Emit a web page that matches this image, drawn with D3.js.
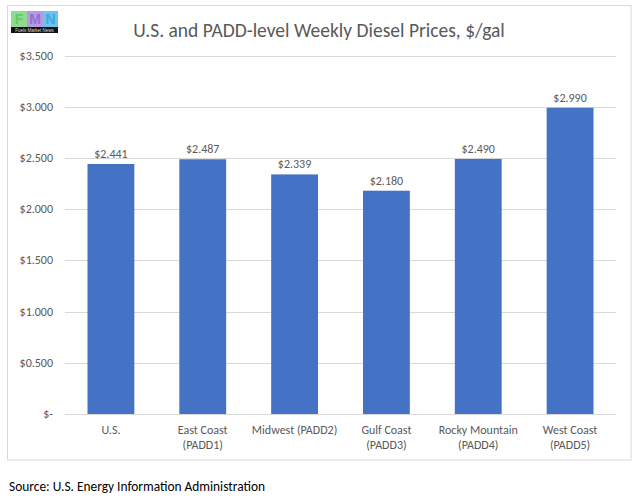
<!DOCTYPE html>
<html><head><meta charset="utf-8">
<script src="https://cdn.jsdelivr.net/npm/d3@7"></script>
<style>body{margin:0;background:#fff}svg{display:block}</style>
</head><body>
<svg id="c" width="638" height="501"></svg>
<script>
const categories = [["U.S."],["East Coast","(PADD1)"],["Midwest (PADD2)"],["Gulf Coast","(PADD3)"],["Rocky Mountain","(PADD4)"],["West Coast","(PADD5)"]];
const values = [2.441, 2.487, 2.339, 2.180, 2.490, 2.990];
const valueLabels = ["$2.441","$2.487","$2.339","$2.180","$2.490","$2.990"];
const tickValues = [0,0.5,1,1.5,2,2.5,3,3.5];
const tickLabels = ["$-","$0.500","$1.000","$1.500","$2.000","$2.500","$3.000","$3.500"];

const svg = d3.select("#c");
const font = "Calibri, Carlito, 'Open Sans', 'Liberation Sans', sans-serif";
svg.append("rect").attr("x",7.5).attr("y",5.5).attr("width",623.5).attr("height",454.5)
  .attr("fill","#fff").attr("stroke","#d9d9d9").attr("stroke-width",1);

const x = d3.scaleBand().domain(d3.range(categories.length)).range([65,616]).paddingInner(0.49).paddingOuter(0.245);
const y = d3.scaleLinear().domain([0,3.5]).range([414,55.5]);

// gridlines
svg.append("g").selectAll("line").data(tickValues).join("line")
  .attr("x1",65).attr("x2",616).attr("y1",d=>Math.round(y(d))+0.5).attr("y2",d=>Math.round(y(d))+0.5)
  .attr("stroke","#d9d9d9").attr("stroke-width",1);

// y tick labels
svg.append("g").selectAll("text").data(tickValues).join("text")
  .attr("x",53).attr("y",d=>y(d)+4).attr("text-anchor","end")
  .attr("font-family",font).attr("font-size",12).attr("fill","#595959")
  .text((d,i)=>tickLabels[i]);

// bars
svg.append("g").selectAll("rect").data(values).join("rect")
  .attr("x",(d,i)=>x(i)).attr("width",x.bandwidth())
  .attr("y",d=>y(d)).attr("height",d=>y(0)-y(d)).attr("fill","#4472C4");

// value labels
svg.append("g").selectAll("text").data(values).join("text")
  .attr("x",(d,i)=>x(i)+x.bandwidth()/2).attr("y",d=>y(d)-6).attr("text-anchor","middle")
  .attr("font-family",font).attr("font-size",12).attr("fill","#595959")
  .text((d,i)=>valueLabels[i]);

// x labels
const xl = svg.append("g").selectAll("text").data(categories).join("text")
  .attr("x",(d,i)=>x(i)+x.bandwidth()/2).attr("y",434).attr("text-anchor","middle")
  .attr("font-family",font).attr("font-size",12).attr("fill","#595959");
xl.selectAll("tspan").data(d=>d).join("tspan")
  .attr("x",function(){return this.parentNode.getAttribute("x");})
  .attr("dy",(d,i)=>i?15:0).text(d=>d);

// title
svg.append("text").attr("x",319).attr("y",37).attr("text-anchor","middle")
  .attr("font-family",font).attr("font-size",19.5).attr("fill","#595959")
  .text("U.S. and PADD-level Weekly Diesel Prices, $/gal");

// logo
const lg = svg.append("g");
lg.append("rect").attr("x",11).attr("y",11).attr("width",16).attr("height",16).attr("fill","#8fdc8f");
lg.append("rect").attr("x",27).attr("y",11).attr("width",16).attr("height",16).attr("fill","#b59be0");
lg.append("rect").attr("x",43).attr("y",11).attr("width",15).attr("height",16).attr("fill","#6cc3ec");
[["F",19,"#5fc45f"],["M",35,"#8a6ad0"],["N",50.5,"#3aa5dc"]].forEach(([t,cx,c])=>{
  lg.append("text").attr("x",cx).attr("y",23.5).attr("text-anchor","middle").attr("font-family","'Liberation Sans', sans-serif")
    .attr("font-weight","bold").attr("font-size",14).attr("fill",c).attr("opacity",0.85).text(t);
});
lg.append("rect").attr("x",11).attr("y",27).attr("width",47).attr("height",6).attr("fill","#111");
lg.append("text").attr("x",34.5).attr("y",32).attr("text-anchor","middle").attr("font-family","'Liberation Sans', sans-serif")
  .attr("font-size",4.5).attr("fill","#ddd").text("Fuels Market News");

// source
svg.append("text").attr("x",9).attr("y",491).attr("font-family",font).attr("font-size",13.4).attr("fill","#000")
  .text("Source: U.S. Energy Information Administration");
</script>
</body></html>
